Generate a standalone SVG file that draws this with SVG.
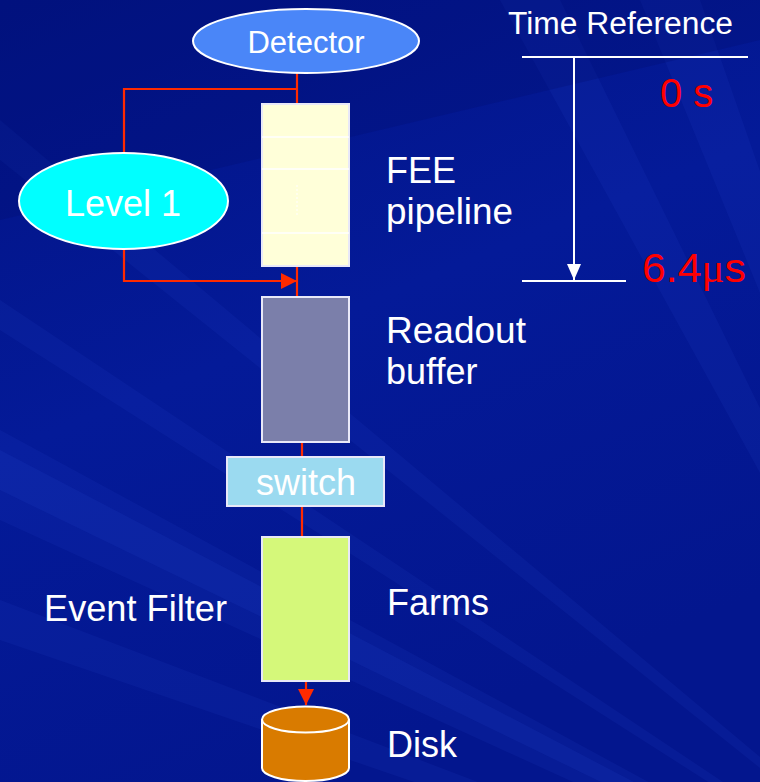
<svg xmlns="http://www.w3.org/2000/svg" width="760" height="782" viewBox="0 0 760 782">
  <defs>
    <linearGradient id="bg" x1="0" y1="0" x2="0.4" y2="1">
      <stop offset="0" stop-color="#021384"/>
      <stop offset="0.5" stop-color="#041A98"/>
      <stop offset="1" stop-color="#03168E"/>
    </linearGradient>
    <marker id="redHead" markerUnits="userSpaceOnUse" markerWidth="16" markerHeight="16" refX="16" refY="8" orient="auto">
      <path d="M0,0 L16,8 L0,16 Z" fill="#FF2A00"/>
    </marker>
    <marker id="whiteHead" markerUnits="userSpaceOnUse" markerWidth="16" markerHeight="16" refX="16" refY="7" orient="auto">
      <path d="M0,0 L16,7 L0,14 Z" fill="#FFFFFF"/>
    </marker>
    <style>
      .lbl { font-family: "Liberation Sans", Arial, sans-serif; fill: #FFFFFF; font-size: 36px; }
      .small { font-size: 31px; }
      .time { font-family: "Liberation Sans", Arial, sans-serif; fill: #FF0000; font-size: 40px; }
      .box { stroke: #E8E8F8; stroke-width: 2; }
      .wire { stroke: #FF2A00; stroke-width: 2.2; fill: none; }
      .rule { stroke: #FFFFFF; stroke-width: 2; fill: none; }
      .sep { stroke: #FFFFFF; stroke-width: 1.5; }
      .ray { fill: #2A48D0; }
    </style>
  </defs>

  <!-- backdrop with faint light rays -->
  <rect x="0" y="0" width="760" height="782" fill="url(#bg)"/>
  <g opacity="0.12">
    <polygon class="ray" points="1050,1000 0,430 0,520"/>
    <polygon class="ray" points="1050,1000 0,300 0,330"/>
    <polygon class="ray" points="1050,1000 0,600 0,640"/>
    <polygon class="ray" points="1050,1000 500,0 560,0"/>
    <polygon class="ray" points="1050,1000 640,0 700,0"/>
    <polygon class="ray" points="1050,1000 0,120 0,160"/>
  </g>
  <g opacity="0.15">
    <polygon class="ray" points="1050,1000 0,450 0,490"/>
    <polygon class="ray" points="1050,1000 760,60 760,140"/>
  </g>
  <polygon points="0,0 760,0 760,40 0,220" fill="#000A6A" opacity="0.25"/>

  <!-- connectors -->
  <g id="connectors">
    <polyline class="wire" points="297,73 297,104"/>
    <polyline class="wire" points="297,89 124,89 124,153"/>
    <polyline class="wire" points="124,249 124,281 297,281" marker-end="url(#redHead)"/>
    <polyline class="wire" points="297,266 297,297"/>
    <polyline class="wire" points="302,442 302,457"/>
    <polyline class="wire" points="302,506 302,537"/>
    <polyline class="wire" points="306,681 306,705" marker-end="url(#redHead)"/>
  </g>

  <g id="detector">
    <ellipse cx="306" cy="41" rx="113" ry="32" fill="#4A86F8" stroke="#FFFFFF" stroke-width="2"/>
    <text class="lbl small" x="306" y="53" text-anchor="middle">Detector</text>
  </g>

  <g id="level1">
    <ellipse cx="123.5" cy="201" rx="104.5" ry="48" fill="#00FFFF" stroke="#FFFFFF" stroke-width="2"/>
    <text class="lbl" x="123" y="216" text-anchor="middle">Level 1</text>
  </g>

  <g id="fee-pipeline">
    <rect class="box" x="262" y="104" width="87" height="162" fill="#FFFFD9"/>
    <line class="sep" x1="262" y1="137" x2="349" y2="137"/>
    <line class="sep" x1="262" y1="169" x2="349" y2="169"/>
    <line class="sep" x1="262" y1="233" x2="349" y2="233"/>
    <line x1="297" y1="185" x2="297" y2="215" stroke="#FFFFFF" stroke-width="1" stroke-dasharray="2,2"/>
    <text class="lbl" x="386" y="183">FEE</text>
    <text class="lbl" x="386" y="224" textLength="127" lengthAdjust="spacingAndGlyphs">pipeline</text>
  </g>

  <g id="readout-buffer">
    <rect class="box" x="262" y="297" width="87" height="145" fill="#7B7FAA"/>
    <text class="lbl" x="386" y="343" textLength="140" lengthAdjust="spacingAndGlyphs">Readout</text>
    <text class="lbl" x="386" y="384">buffer</text>
  </g>

  <g id="switch">
    <rect class="box" x="227" y="457" width="157" height="49" fill="#9BDAF0"/>
    <text class="lbl" x="306" y="495" text-anchor="middle">switch</text>
  </g>

  <g id="farms">
    <rect class="box" x="262" y="537" width="87" height="144" fill="#D5F87A"/>
    <text class="lbl" x="387" y="615">Farms</text>
    <text class="lbl" x="44" y="621" textLength="183" lengthAdjust="spacingAndGlyphs">Event Filter</text>
  </g>

  <g id="disk">
    <path d="M262,719.5 L262,768 A43.5,13 0 0 0 349,768 L349,719.5" fill="#D97B00" stroke="#FFFFFF" stroke-width="2"/>
    <ellipse cx="305.5" cy="719.5" rx="43.5" ry="13" fill="#D97B00" stroke="#FFFFFF" stroke-width="2"/>
    <text class="lbl" x="387" y="757">Disk</text>
  </g>

  <g id="time-reference">
    <text class="lbl small" x="508" y="34" textLength="225" lengthAdjust="spacingAndGlyphs">Time Reference</text>
    <line class="rule" x1="522" y1="57" x2="748" y2="57"/>
    <line class="rule" x1="574" y1="57" x2="574" y2="280" marker-end="url(#whiteHead)"/>
    <line class="rule" x1="522" y1="281" x2="626" y2="281"/>
    <text class="time" x="660" y="107">0 s</text>
    <text class="time" x="642" y="282" textLength="104" lengthAdjust="spacingAndGlyphs">6.4<tspan font-family="'Liberation Serif', 'Times New Roman', serif">μ</tspan>s</text>
  </g>
</svg>
